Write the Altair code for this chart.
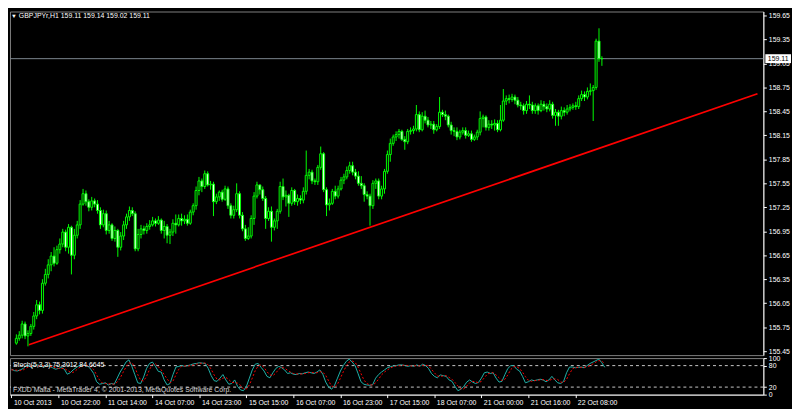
import pandas as pd
import altair as alt

SYMBOL = "GBPJPYr,H1"
LAST_OHLC = [159.11, 159.14, 159.02, 159.11]
BID = 159.11
FIRST_OPEN = 155.55

CLOSE = [
    155.61, 155.65, 155.79, 155.64, 155.67, 155.76, 155.89, 156.03, 155.96, 156.30,
    156.41, 156.53, 156.64, 156.55, 156.72, 156.79, 156.94, 156.75, 157.00, 156.65,
    156.90, 157.03, 157.29, 157.42, 157.32, 157.25, 157.33, 157.29, 157.21, 157.03,
    157.17, 156.96, 157.03, 156.86, 156.96, 156.75, 156.89, 157.03, 157.13, 157.21,
    157.17, 156.73, 156.91, 156.98, 156.96, 157.01, 157.03, 157.08, 157.05, 157.09,
    156.96, 157.01, 156.90, 156.94, 157.05, 157.03, 157.11, 157.08, 157.10, 157.05,
    157.19, 157.27, 157.46, 157.58, 157.51, 157.67, 157.53, 157.54, 157.32, 157.38,
    157.44, 157.35, 157.48, 157.27, 157.15, 157.22, 157.42, 157.15, 156.98, 156.86,
    156.89, 157.11, 157.39, 157.53, 157.47, 157.36, 157.11, 157.20, 157.00, 157.08,
    157.20, 157.51, 157.38, 157.40, 157.30, 157.46, 157.32, 157.36, 157.34, 157.45,
    157.65, 157.69, 157.58, 157.57, 157.75, 157.92, 157.47, 157.28, 157.30, 157.45,
    157.39, 157.48, 157.59, 157.63, 157.71, 157.77, 157.69, 157.64, 157.55, 157.52,
    157.41, 157.39, 157.27, 157.55, 157.58, 157.39, 157.48, 157.70, 157.91, 158.05,
    158.13, 158.16, 158.20, 158.10, 158.07, 158.20, 158.21, 158.23, 158.41, 158.22,
    158.39, 158.34, 158.28, 158.29, 158.22, 158.26, 158.44, 158.41, 158.39, 158.28,
    158.21, 158.20, 158.13, 158.19, 158.21, 158.15, 158.17, 158.10, 158.13, 158.19,
    158.36, 158.38, 158.25, 158.29, 158.28, 158.30, 158.22, 158.34, 158.58, 158.61,
    158.60, 158.63, 158.59, 158.53, 158.52, 158.46, 158.54, 158.53, 158.46, 158.52,
    158.46, 158.54, 158.51, 158.48, 158.54, 158.40, 158.44, 158.39, 158.46, 158.44,
    158.48, 158.50, 158.52, 158.51, 158.61, 158.66, 158.63, 158.70, 158.71, 158.75,
    159.33, 159.11, 159.11,
]

HIGH = [
    155.66, 155.70, 155.83, 155.82, 155.71, 155.79, 155.94, 156.09, 156.07, 156.35,
    156.48, 156.60, 156.69, 156.75, 156.77, 156.86, 156.98, 156.97, 157.04, 157.02,
    156.98, 157.08, 157.34, 157.48, 157.46, 157.35, 157.38, 157.36, 157.34, 157.25,
    157.22, 157.21, 157.08, 157.05, 157.01, 156.98, 156.94, 157.08, 157.17, 157.26,
    157.25, 157.20, 156.98, 157.03, 157.02, 157.05, 157.09, 157.13, 157.11, 157.14,
    157.11, 157.08, 157.04, 156.98, 157.10, 157.16, 157.16, 157.17, 157.15, 157.16,
    157.22, 157.30, 157.51, 157.63, 157.61, 157.71, 157.70, 157.58, 157.57, 157.42,
    157.46, 157.47, 157.52, 157.51, 157.30, 157.27, 157.55, 157.45, 157.19, 157.03,
    157.00, 157.15, 157.44, 157.57, 157.53, 157.51, 157.39, 157.25, 157.26, 157.11,
    157.23, 157.57, 157.61, 157.46, 157.42, 157.50, 157.48, 157.41, 157.40, 157.50,
    157.96, 157.73, 157.72, 157.61, 157.78, 158.01, 157.94, 157.50, 157.36, 157.48,
    157.52, 157.52, 157.63, 157.67, 157.76, 157.82, 157.82, 157.73, 157.70, 157.64,
    157.55, 157.45, 157.42, 157.59, 157.61, 157.61, 157.52, 157.73, 157.96, 158.11,
    158.16, 158.20, 158.23, 158.22, 158.14, 158.23, 158.25, 158.27, 158.53, 158.45,
    158.44, 158.46, 158.38, 158.33, 158.33, 158.29, 158.63, 158.47, 158.46, 158.41,
    158.32, 158.25, 158.25, 158.22, 158.25, 158.25, 158.21, 158.21, 158.16, 158.22,
    158.45, 158.41, 158.40, 158.34, 158.34, 158.35, 158.34, 158.53, 158.73, 158.65,
    158.66, 158.67, 158.66, 158.63, 158.57, 158.55, 158.58, 158.65, 158.57, 158.55,
    158.55, 158.59, 158.58, 158.55, 158.59, 158.57, 158.48, 158.47, 158.51, 158.50,
    158.53, 158.54, 158.55, 158.57, 158.65, 158.71, 158.70, 158.75, 158.80, 158.78,
    159.36, 159.49, 159.14,
]

LOW = [
    155.53, 155.58, 155.61, 155.60, 155.51, 155.64, 155.72, 155.85, 155.91, 155.92,
    156.27, 156.36, 156.45, 156.51, 156.53, 156.67, 156.75, 156.70, 156.67, 156.41,
    156.60, 156.86, 156.98, 157.27, 157.27, 157.20, 157.21, 157.25, 157.17, 156.98,
    157.00, 156.91, 156.92, 156.83, 156.82, 156.63, 156.71, 156.84, 156.98, 157.08,
    157.14, 156.70, 156.70, 156.86, 156.91, 156.92, 156.97, 157.01, 157.01, 157.03,
    156.92, 156.86, 156.80, 156.79, 156.89, 156.92, 157.01, 157.02, 157.04, 157.02,
    157.03, 157.15, 157.22, 157.40, 157.44, 157.48, 157.51, 157.47, 157.14, 157.29,
    157.33, 157.32, 157.33, 157.23, 157.11, 157.11, 157.19, 157.11, 156.95, 156.83,
    156.84, 156.86, 157.03, 157.36, 157.41, 157.33, 156.98, 157.08, 156.82, 156.96,
    156.98, 157.17, 157.34, 157.26, 157.13, 157.27, 157.28, 157.27, 157.29, 157.30,
    157.41, 157.60, 157.54, 157.53, 157.53, 157.72, 157.44, 157.14, 157.21, 157.28,
    157.35, 157.36, 157.46, 157.54, 157.60, 157.67, 157.65, 157.60, 157.52, 157.48,
    157.32, 157.35, 157.02, 157.23, 157.48, 157.35, 157.35, 157.42, 157.67, 157.82,
    158.02, 158.08, 158.11, 158.08, 157.97, 158.04, 158.16, 158.17, 158.20, 158.19,
    158.20, 158.30, 158.25, 158.23, 158.17, 158.20, 158.23, 158.38, 158.34, 158.25,
    158.16, 158.14, 158.09, 158.10, 158.16, 158.11, 158.13, 158.07, 158.08, 158.09,
    158.15, 158.25, 158.21, 158.21, 158.23, 158.21, 158.19, 158.20, 158.32, 158.53,
    158.55, 158.57, 158.54, 158.50, 158.47, 158.41, 158.42, 158.48, 158.42, 158.42,
    158.41, 158.44, 158.46, 158.44, 158.45, 158.36, 158.27, 158.27, 158.35, 158.39,
    158.41, 158.45, 158.47, 158.47, 158.48, 158.58, 158.58, 158.60, 158.65, 158.33,
    158.72, 159.07, 159.02,
]

STOCH_K = [
    70, 66, 65, 68, 72, 80, 78, 75, 80, 82,
    78, 76, 80, 78, 74, 70, 72, 75, 70, 56,
    60, 68, 74, 80, 82, 80, 79, 70, 58, 35,
    28, 30, 32, 26, 30, 28, 45, 62, 75, 90,
    96, 78, 55, 32, 30, 48, 72, 86, 90, 78,
    64, 62, 40, 26, 30, 55, 76, 78, 80, 78,
    80, 82, 85, 86, 88, 87, 86, 72, 52, 38,
    36, 45, 55, 40, 28, 30, 40, 22, 12, 10,
    22, 45, 68, 84, 86, 75, 65, 50, 46, 60,
    72, 78, 74, 68, 58, 60, 56, 55, 58, 57,
    60, 62, 60, 58, 62, 68, 56, 34, 20, 14,
    25, 45, 65, 80, 92, 98, 90, 80, 58, 35,
    28, 26, 25, 27, 45, 55, 62, 68, 74, 77,
    79, 80, 82, 82, 80, 78, 80, 78, 82, 78,
    84, 80, 72, 58, 50, 46, 54, 52, 50, 40,
    36, 22, 10, 14, 22, 34, 40, 34, 30, 33,
    45, 60, 62, 58, 60, 45, 34, 36, 55, 72,
    80, 80, 70, 65, 50, 32, 35, 40, 38, 40,
    42, 40, 35, 40, 50, 40, 32, 30, 36, 60,
    76, 76, 74, 75, 76, 74, 80, 86, 90, 94,
    98, 88, 75.3012,
]

STOCH_D = [
    68, 68, 67, 66, 68, 73, 77, 78, 78, 79,
    80, 79, 78, 78, 77, 74, 72, 72, 72, 67,
    62, 61, 67, 74, 79, 81, 80, 76, 69, 54,
    40, 31, 30, 29, 29, 28, 34, 45, 61, 76,
    87, 88, 76, 55, 39, 37, 50, 69, 83, 85,
    77, 68, 55, 43, 32, 37, 54, 70, 78, 79,
    79, 80, 82, 84, 86, 87, 87, 82, 70, 54,
    42, 40, 45, 47, 41, 33, 33, 31, 25, 15,
    15, 26, 45, 66, 79, 82, 75, 63, 54, 52,
    59, 70, 75, 73, 67, 62, 58, 57, 56, 57,
    58, 60, 61, 60, 60, 63, 62, 53, 37, 23,
    20, 28, 45, 63, 79, 90, 93, 89, 76, 58,
    40, 30, 26, 26, 32, 42, 54, 62, 68, 73,
    77, 79, 80, 81, 81, 80, 79, 79, 80, 79,
    81, 81, 79, 70, 60, 51, 50, 51, 52, 47,
    42, 33, 23, 15, 15, 23, 32, 36, 35, 32,
    36, 46, 56, 60, 60, 54, 46, 38, 42, 54,
    69, 77, 77, 72, 62, 49, 39, 36, 38, 39,
    40, 41, 39, 38, 42, 43, 41, 34, 33, 42,
    57, 71, 75, 75, 75, 75, 77, 80, 85, 90,
    94, 93, 84.6645,
]

TIME_TICK_BARS = [0, 16, 32, 48, 64, 80, 96, 112, 128, 144, 160, 176, 192]
TIME_LABELS = [
    "10 Oct 2013", "10 Oct 22:00", "11 Oct 14:00", "14 Oct 07:00", "14 Oct 23:00",
    "15 Oct 15:00", "16 Oct 07:00", "16 Oct 23:00", "17 Oct 15:00", "18 Oct 07:00",
    "21 Oct 00:00", "21 Oct 16:00", "22 Oct 08:00",
]
PRICE_TICKS = [155.45, 155.75, 156.05, 156.35, 156.65, 156.95, 157.25, 157.55,
               157.85, 158.15, 158.45, 158.75, 159.05, 159.35, 159.65]
STOCH_TICKS = [0, 20, 80, 100]
STOCH_LEVELS = [20, 80]
TREND_BARS = [4.33, 255.67]
TREND_PRICES = [155.53, 158.67]

FONT = "Liberation Sans"
W = 763
H_MAIN = 348
H_LOW = 37

n = len(CLOSE)
opens = [FIRST_OPEN] + CLOSE[:-1]
candles = pd.DataFrame({
    "bar": list(range(n)), "open": opens, "high": HIGH, "low": LOW, "close": CLOSE,
})
candles["dir"] = ["bull" if c >= o else "bear" for o, c in zip(opens, CLOSE)]

xs = alt.Scale(domain=[-0.5, 256], nice=False, zero=False)
ys = alt.Scale(domain=[155.40, 159.70], nice=False, zero=False)
ss = alt.Scale(domain=[-1, 101], nice=False, zero=False)

y_axis = alt.Axis(orient="right", values=PRICE_TICKS, format=".2f", title=None,
                  grid=False, tickSize=3, tickColor="#ffffff", domainColor="#ffffff",
                  labelColor="#ffffff", labelFont=FONT, labelFontSize=7, labelPadding=2,
                  labelOverlap=False)
s_axis = alt.Axis(orient="right", values=STOCH_TICKS, format="d", title=None,
                  grid=False, tickSize=3, tickColor="#ffffff", domainColor="#ffffff",
                  labelColor="#ffffff", labelFont=FONT, labelFontSize=7, labelPadding=2,
                  labelOverlap=False)
label_array = "[" + ",".join("'" + s + "'" for s in TIME_LABELS) + "]"
x_axis = alt.Axis(values=TIME_TICK_BARS, labelExpr=label_array + "[round(datum.value/16)]",
                  title=None, grid=False, tickSize=3, tickColor="#ffffff",
                  domainColor="#ffffff", labelColor="#ffffff", labelFont=FONT,
                  labelFontSize=7, labelAlign="left", labelFlush=False,
                  labelOverlap=False, labelPadding=1, labelOffset=2)

base = alt.Chart(candles)
wick = base.mark_rule(color="#00ff00", strokeWidth=1).encode(
    x=alt.X("bar:Q", scale=xs, axis=None),
    y=alt.Y("low:Q", scale=ys, axis=y_axis),
    y2="high:Q",
)
body = base.mark_bar(size=2, stroke="#00ff00", strokeWidth=1, opacity=1).encode(
    x=alt.X("bar:Q", scale=xs, axis=None),
    y=alt.Y("open:Q", scale=ys, axis=y_axis),
    y2="close:Q",
    color=alt.Color("dir:N", scale=alt.Scale(domain=["bull", "bear"],
                                             range=["#000000", "#ffffff"]), legend=None),
)

trend_df = pd.DataFrame({"b1": [TREND_BARS[0]], "b2": [TREND_BARS[1]],
                         "p1": [TREND_PRICES[0]], "p2": [TREND_PRICES[1]]})
trend = alt.Chart(trend_df).mark_rule(color="#ff0000", strokeWidth=1.7, clip=True).encode(
    x=alt.X("b1:Q", scale=xs, axis=None), x2="b2:Q",
    y=alt.Y("p1:Q", scale=ys, axis=y_axis), y2="p2:Q",
)

bid_df = pd.DataFrame({"p": [BID]})
bid_line = alt.Chart(bid_df).mark_rule(color="#7d868e", strokeWidth=1).encode(
    y=alt.Y("p:Q", scale=ys, axis=y_axis))
bid_box = alt.Chart(bid_df).mark_tick(orient="horizontal", size=26, thickness=9,
                                      color="#ffffff", opacity=1).encode(
    x=alt.value(W + 15), y=alt.Y("p:Q", scale=ys, axis=y_axis))
bid_text = alt.Chart(bid_df).mark_text(color="#000000", font=FONT, fontSize=7,
                                       align="center", baseline="middle").encode(
    x=alt.value(W + 15), y=alt.Y("p:Q", scale=ys, axis=y_axis),
    text=alt.Text("p:Q", format=".2f"))

title_df = pd.DataFrame({"t": [SYMBOL + "  " + " ".join(f"{v:.2f}" for v in LAST_OHLC)]})
title_text = alt.Chart(title_df).mark_text(color="#ffffff", font=FONT, fontSize=7,
                                           align="left", baseline="middle").encode(
    x=alt.value(9), y=alt.value(5), text="t:N")
tri = alt.Chart(pd.DataFrame({"t": ["\u25bc"]})).mark_text(
    color="#ffffff", fontSize=6, align="center", baseline="middle").encode(
    x=alt.value(4), y=alt.value(5), text="t:N")

main = alt.layer(bid_line, trend, wick, body, bid_box, bid_text, tri, title_text).properties(
    width=W, height=H_MAIN)

stoch_df = pd.DataFrame({"bar": list(range(n)), "k": STOCH_K, "d": STOCH_D})
levels = alt.Chart(pd.DataFrame({"lv": STOCH_LEVELS})).mark_rule(
    color="#c8c8c8", strokeDash=[3, 3], strokeWidth=1).encode(
    y=alt.Y("lv:Q", scale=ss, axis=s_axis))
k_line = alt.Chart(stoch_df).mark_line(color="#20b2aa", strokeWidth=1).encode(
    x=alt.X("bar:Q", scale=xs, axis=x_axis), y=alt.Y("k:Q", scale=ss, axis=s_axis))
d_line = alt.Chart(stoch_df).mark_line(color="#ff0000", strokeWidth=1, strokeDash=[2, 2]).encode(
    x=alt.X("bar:Q", scale=xs, axis=x_axis), y=alt.Y("d:Q", scale=ss, axis=s_axis))
stoch_lbl = alt.Chart(pd.DataFrame({"t": [f"Stoch(5,3,3) {STOCH_K[-1]:.4f} {STOCH_D[-1]:.4f}"]})).mark_text(
    color="#ffffff", font=FONT, fontSize=7, align="left", baseline="middle").encode(
    x=alt.value(3), y=alt.value(7), text="t:N")
fxdd_lbl = alt.Chart(pd.DataFrame({"t": ["FXDD Malta - MetaTrader 4, \u00a9 2001-2013, MetaQuotes Software Corp."]})).mark_text(
    color="#d8d8d8", font=FONT, fontSize=7, align="left", baseline="middle").encode(
    x=alt.value(3), y=alt.value(32), text="t:N")

lower = alt.layer(levels, k_line, d_line, stoch_lbl, fxdd_lbl).properties(width=W, height=H_LOW)

chart = alt.vconcat(main, lower, spacing=3, bounds="flush").resolve_scale(
    x="independent", y="independent", color="independent"
).properties(padding=0).configure(background="#000000").configure_view(
    stroke="#808080", strokeWidth=1
).configure_axis(grid=False)

chart.save("out.html", embed_options={"renderer": "svg", "actions": False})
